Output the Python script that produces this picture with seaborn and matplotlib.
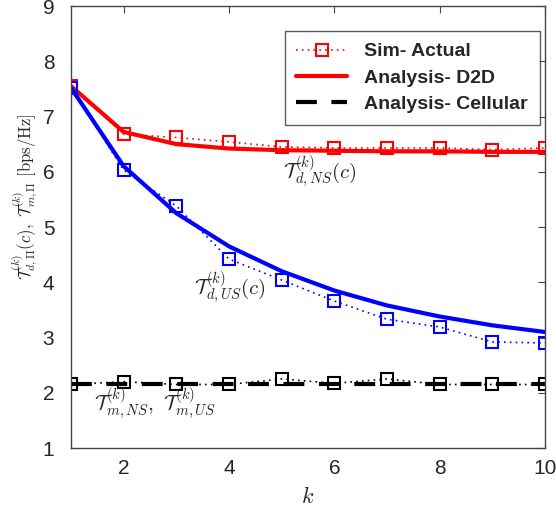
import numpy as np
import pandas as pd
import matplotlib
matplotlib.use("Agg")
import matplotlib.pyplot as plt
import seaborn as sns

k = [1, 2, 3, 4, 5, 6, 7, 8, 9, 10]
d2d_ns_sim = [7.55, 6.68, 6.62, 6.54, 6.45, 6.43, 6.43, 6.43, 6.40, 6.43]
d2d_ns_ana = [7.55, 6.72, 6.50, 6.42, 6.39, 6.38, 6.37, 6.37, 6.36, 6.36]
d2d_us_sim = [7.52, 6.03, 5.38, 4.42, 4.04, 3.66, 3.33, 3.19, 2.92, 2.90]
d2d_us_ana = [7.52, 6.10, 5.25, 4.65, 4.20, 3.85, 3.58, 3.38, 3.22, 3.10]
cell_sim = [2.15, 2.20, 2.15, 2.15, 2.25, 2.17, 2.25, 2.15, 2.15, 2.15]
cell_ana = [2.15, 2.15, 2.15, 2.15, 2.15, 2.15, 2.15, 2.15, 2.15, 2.15]

sns.set_style("white")
plt.rcParams["font.family"] = ["Liberation Sans", "DejaVu Sans"]
plt.rcParams["mathtext.fontset"] = "cm"

fig = plt.figure(figsize=(5.56, 5.11), dpi=100)
ax = fig.add_axes([71 / 556, 1 - 448 / 511, (545 - 71) / 556, (448 - 6) / 511])


def sim_kw(c):
    return dict(color=c, linestyle=(0, (1, 2.5)), linewidth=1.2, marker="s", markersize=8,
                markerfacecolor="none", markeredgecolor=c, markeredgewidth=1.5)


ana_kw = dict(linewidth=3)

l_d2d = sns.lineplot(x=k, y=d2d_ns_ana, ax=ax, color="red", linestyle="-", **ana_kw).lines[-1]
l_sim = sns.lineplot(x=k, y=d2d_ns_sim, ax=ax, **sim_kw("red")).lines[-1]
sns.lineplot(x=k, y=d2d_us_ana, ax=ax, color="blue", linestyle="-", **ana_kw)
sns.lineplot(x=k, y=d2d_us_sim, ax=ax, **sim_kw("blue"))
l_cell = sns.lineplot(x=k, y=cell_ana, ax=ax, color="black", linestyle=(0, (5, 3.5)), **ana_kw).lines[-1]
sns.lineplot(x=k, y=cell_sim, ax=ax, **sim_kw("black"))

ax.set_xlim(1, 10)
ax.set_ylim(1, 9)
ax.set_xticks([2, 4, 6, 8, 10])
ax.set_yticks(range(1, 10))
ax.tick_params(direction="in", top=True, right=True, length=5, width=0.8,
               labelsize=15, color="#444444")
ax.tick_params(axis="x", pad=8)
ax.tick_params(axis="y", pad=12)
for s in ax.spines.values():
    s.set_color("#444444")
    s.set_linewidth(1.0)

ax.set_xlabel(r"$k$", fontsize=16)
ax.xaxis.set_label_coords(0.5, -0.088)
ax.set_ylabel(r"$\mathcal{T}_{d,\Pi}^{(k)}(c),\ \mathcal{T}_{m,\Pi}^{(k)}\ \mathrm{[bps/Hz]}$",
              fontsize=12)
ax.yaxis.set_label_coords(-0.066, 0.568)

ax.text(5.73, 6.0, r"$\mathcal{T}_{d,NS}^{(k)}(c)$", fontsize=15, ha="center", va="center")
ax.text(4.02, 3.9, r"$\mathcal{T}_{d,US}^{(k)}(c)$", fontsize=15, ha="center", va="center")
ax.text(2.6, 1.80, r"$\mathcal{T}_{m,NS}^{(k)},\ \mathcal{T}_{m,US}^{(k)}$", fontsize=15,
        ha="center", va="center")

leg = ax.legend([l_sim, l_d2d, l_cell], ["Sim- Actual", "Analysis- D2D", "Analysis- Cellular"],
                loc="upper right", bbox_to_anchor=(0.989, 0.943),
                prop={"weight": "bold", "size": 14}, frameon=True, fancybox=False,
                edgecolor="#333333", handlelength=2.6, borderpad=0.6, labelspacing=0.45,
                handletextpad=0.9, borderaxespad=0)
leg.get_frame().set_linewidth(1.0)

fig.savefig("out.png", dpi=100)
